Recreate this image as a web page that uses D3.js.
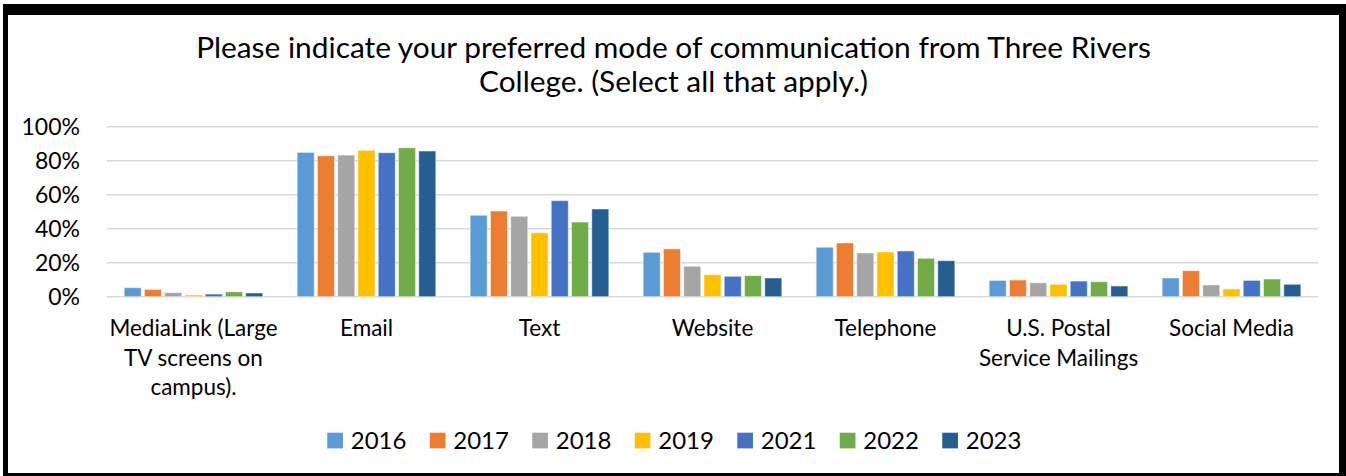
<!DOCTYPE html>
<html>
<head>
<meta charset="utf-8">
<script src="https://cdn.jsdelivr.net/npm/d3@7"></script>
<style>
  body { margin: 0; background: #fff; }
  svg { display: block; }
  text { font-family: Lato, "Open Sans", sans-serif; fill: #000; }
</style>
</head>
<body>
<svg id="chart"></svg>
<script>
// data (percent)
const titleLines = [
  "Please indicate your preferred mode of communication from Three Rivers",
  "College. (Select all that apply.)"
];
const categories = [
  "MediaLink (Large\nTV screens on\ncampus).",
  "Email",
  "Text",
  "Website",
  "Telephone",
  "U.S. Postal\nService Mailings",
  "Social Media"
];
const years = ["2016", "2017", "2018", "2019", "2021", "2022", "2023"];
const colors = ["#5B9BD5", "#ED7D31", "#A5A5A5", "#FFC000", "#4472C4", "#70AD47", "#255E91"];

const values2016 = [5.3, 84.9, 47.9, 26.1, 29.1, 9.6, 11.0];
const values2017 = [4.3, 82.9, 50.4, 28.1, 31.6, 9.8, 15.3];
const values2018 = [2.4, 83.3, 47.3, 17.9, 25.7, 8.2, 6.9];
const values2019 = [1.0, 86.1, 37.6, 12.9, 26.3, 7.3, 4.5];
const values2021 = [1.6, 84.7, 56.5, 12.0, 26.9, 9.2, 9.6];
const values2022 = [2.9, 87.6, 43.9, 12.4, 22.6, 8.8, 10.4];
const values2023 = [2.2, 85.7, 51.6, 11.0, 21.2, 6.3, 7.3];
const seriesValues = [values2016, values2017, values2018, values2019, values2021, values2022, values2023];

const yTicks = [0, 20, 40, 60, 80, 100];

// dims
const W = 1346, H = 476;
const plot = { left: 107, right: 1318, top: 126.7, bottom: 296.7 };

const svg = d3.select("#chart").attr("width", W).attr("height", H);

// frame
svg.append("rect").attr("x", 3).attr("y", 4).attr("width", W - 3).attr("height", H - 4).attr("fill", "#000");
svg.append("rect").attr("x", 8).attr("y", 15).attr("width", 1331).attr("height", 458).attr("fill", "#fff");

// title, fitted to the reference line width
const title = svg.append("g");
let titleSize = 26;
const tLines = title.selectAll("text")
  .data(titleLines)
  .join("text")
  .attr("x", 673.5)
  .attr("y", (d, i) => 58 + i * 34)
  .attr("text-anchor", "middle")
  .style("font-size", titleSize + "px")
  .text(d => d);
const w0 = tLines.nodes()[0].getComputedTextLength();
titleSize = titleSize * 955 / w0;
tLines.style("font-size", titleSize + "px");

// scales
const y = d3.scaleLinear().domain([0, 100]).range([plot.bottom, plot.top]);
const x0 = d3.scaleBand().domain(categories).range([plot.left, plot.right]).paddingInner(0.18).paddingOuter(0.09);
const x1 = d3.scaleBand().domain(years).range([0, x0.bandwidth()]);

// gridlines
svg.append("g")
  .selectAll("line")
  .data(yTicks)
  .join("line")
  .attr("x1", plot.left)
  .attr("x2", plot.right)
  .attr("y1", d => y(d))
  .attr("y2", d => y(d))
  .attr("stroke", "#d9d9d9")
  .attr("stroke-width", 1.5);

// y axis labels
const yAxis = svg.append("g")
  .attr("transform", `translate(${plot.left - 27},0)`)
  .call(d3.axisLeft(y).tickValues(yTicks).tickFormat(d => d + "%").tickSize(0).tickPadding(0));
yAxis.select(".domain").remove();
yAxis.selectAll("text")
  .attr("fill", "#000")
  .style("font-family", "Lato, sans-serif")
  .style("font-size", "23px");

// bars
const groups = svg.append("g")
  .selectAll("g")
  .data(years.map((yr, i) => ({ year: yr, color: colors[i], values: seriesValues[i] })))
  .join("g")
  .attr("fill", d => d.color);

groups.selectAll("rect")
  .data(d => d.values.map((v, j) => ({ year: d.year, cat: categories[j], v })))
  .join("rect")
  .attr("x", d => x0(d.cat) + x1(d.year) + 1.6)
  .attr("width", x1.bandwidth() - 3.2)
  .attr("y", d => y(d.v))
  .attr("height", d => y(0) - y(d.v))
  .attr("stroke", "#fff")
  .attr("stroke-opacity", 0.5)
  .attr("stroke-width", 1);

// category labels
const catLabels = svg.append("g")
  .selectAll("text")
  .data(categories)
  .join("text")
  .attr("text-anchor", "middle")
  .style("font-size", "22.5px");
catLabels.each(function(d) {
  const t = d3.select(this);
  d.split("\n").forEach((line, i) => {
    t.append("tspan")
      .attr("x", x0(d) + x0.bandwidth() / 2)
      .attr("y", 336 + i * 29.5)
      .text(line);
  });
});

// legend
const legendStep = 102.5;
const legend = svg.append("g")
  .attr("transform", `translate(${677 - legendStep * years.length / 2 + 9},0)`);
const items = legend.selectAll("g")
  .data(years)
  .join("g")
  .attr("transform", (d, i) => `translate(${i * legendStep},0)`);
items.append("rect")
  .attr("y", 432.7)
  .attr("width", 15.7)
  .attr("height", 15.7)
  .attr("fill", (d, i) => colors[i]);
items.append("text")
  .attr("x", 23.5)
  .attr("y", 448.5)
  .style("font-size", "24px")
  .text(d => d);
</script>
</body>
</html>
